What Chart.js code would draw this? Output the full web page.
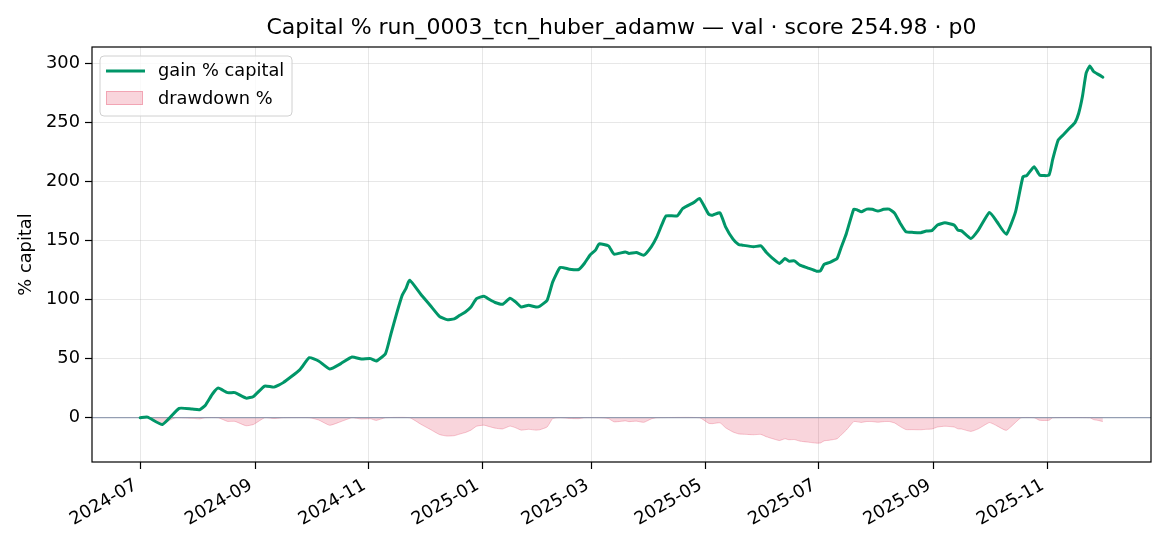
<!DOCTYPE html>
<html>
<head>
<meta charset="utf-8">
<script src="https://cdn.jsdelivr.net/npm/chart.js@4.4.1/dist/chart.umd.min.js"></script>
<style>
  html, body { margin: 0; padding: 0; background: #ffffff; }
  #wrap { width: 1170px; height: 546px; }
</style>
</head>
<body>
<div id="wrap"><canvas id="capChart" width="1170" height="546"></canvas></div>
<script>
const chartTitle = "Capital % run_0003_tcn_huber_adamw — val · score 254.98 · p0";
const yLabel = "% capital";

const gainDates = [
  "2024-07-01", "2024-07-05", "2024-07-13", "2024-07-22", "2024-07-29", "2024-08-02",
  "2024-08-05", "2024-08-09", "2024-08-12", "2024-08-17", "2024-08-21", "2024-08-27",
  "2024-08-31", "2024-09-06", "2024-09-11", "2024-09-16", "2024-09-25", "2024-09-30",
  "2024-10-05", "2024-10-11", "2024-10-17", "2024-10-23", "2024-10-28", "2024-11-02",
  "2024-11-05", "2024-11-10", "2024-11-13", "2024-11-16", "2024-11-19", "2024-11-21",
  "2024-11-23", "2024-11-29", "2024-12-04", "2024-12-09", "2024-12-13", "2024-12-17",
  "2024-12-20", "2024-12-23", "2024-12-26", "2024-12-29", "2025-01-02", "2025-01-05",
  "2025-01-08", "2025-01-12", "2025-01-16", "2025-01-19", "2025-01-22", "2025-01-26",
  "2025-01-30", "2025-02-01", "2025-02-05", "2025-02-08", "2025-02-12", "2025-02-17",
  "2025-02-22", "2025-02-25", "2025-02-28", "2025-03-03", "2025-03-05", "2025-03-10",
  "2025-03-13", "2025-03-19", "2025-03-21", "2025-03-25", "2025-03-29", "2025-04-02",
  "2025-04-05", "2025-04-08", "2025-04-10", "2025-04-16", "2025-04-19", "2025-04-25",
  "2025-04-28", "2025-05-03", "2025-05-05", "2025-05-09", "2025-05-12", "2025-05-16",
  "2025-05-19", "2025-05-21", "2025-05-27", "2025-05-31", "2025-06-03", "2025-06-06",
  "2025-06-10", "2025-06-13", "2025-06-15", "2025-06-18", "2025-06-21", "2025-06-25",
  "2025-06-30", "2025-07-02", "2025-07-04", "2025-07-07", "2025-07-11", "2025-07-13",
  "2025-07-16", "2025-07-20", "2025-07-22", "2025-07-24", "2025-07-27", "2025-07-30",
  "2025-08-02", "2025-08-05", "2025-08-08", "2025-08-11", "2025-08-14", "2025-08-17",
  "2025-08-21", "2025-08-25", "2025-08-28", "2025-08-31", "2025-09-03", "2025-09-07",
  "2025-09-12", "2025-09-14", "2025-09-16", "2025-09-21", "2025-09-25", "2025-10-01",
  "2025-10-05", "2025-10-10", "2025-10-15", "2025-10-19", "2025-10-21", "2025-10-25",
  "2025-10-28", "2025-11-02", "2025-11-04", "2025-11-07", "2025-11-10", "2025-11-13",
  "2025-11-16", "2025-11-18", "2025-11-20", "2025-11-22", "2025-11-24", "2025-11-26",
  "2025-11-29", "2025-12-01"
];
const gainValues = [
  0, 0.5, -5.7, 7.9, 7.3, 6.8,
  10.4, 20.3, 25.1, 21.2, 21.2, 16.6,
  18.0, 26.8, 25.9, 29.7, 40.7, 50.8,
  48.0, 41.2, 45.8, 51.4, 49.7, 50.0,
  48.0, 54.2, 71.2, 88.1, 103.6, 109.3,
  116.4, 104.5, 95.2, 85.8, 83.0, 83.6,
  86.7, 89.5, 93.7, 100.8, 102.8, 100.0,
  97.5, 96.0, 101.1, 98.0, 93.7, 95.2,
  93.7, 94.3, 99.4, 114.9, 127.1, 125.7,
  125.4, 130.5, 137.5, 141.8, 147.1, 145.4,
  138.4, 140.3, 139.0, 139.8, 137.5, 144.6,
  153.0, 164.4, 170.8, 170.8, 177.1, 182.2,
  185.6, 172.0, 171.4, 173.4, 161.5, 151.1,
  146.6, 146.0, 144.6, 145.4, 139.8, 135.3,
  130.5, 134.7, 132.5, 132.7, 129.1, 126.8,
  124.0, 124.2, 129.7, 131.4, 134.7, 143.2,
  155.9, 176.5, 175.7, 174.2, 176.5, 176.3,
  174.8, 176.3, 176.5, 172.9, 164.4, 157.3,
  156.8, 156.6, 157.9, 158.3, 163.0, 164.9,
  163.0, 158.7, 158.1, 151.7, 158.7, 173.7,
  165.8, 155.1, 174.2, 203.9, 204.8, 212.4,
  205.3, 205.3, 218.5, 235.0, 239.8, 244.9,
  249.7, 257.6, 271.7, 291.5, 297.7, 292.9,
  290.1, 288.1
];

const ddDates = [
  "2024-07-01", "2024-07-05", "2024-07-08", "2024-07-13", "2024-07-17", "2024-07-20",
  "2024-07-22", "2024-07-29", "2024-08-02", "2024-08-05", "2024-08-12", "2024-08-17",
  "2024-08-21", "2024-08-27", "2024-08-31", "2024-09-06", "2024-09-11", "2024-09-16",
  "2024-09-30", "2024-10-05", "2024-10-11", "2024-10-17", "2024-10-23", "2024-10-28",
  "2024-11-02", "2024-11-05", "2024-11-10", "2024-11-23", "2024-11-29", "2024-12-04",
  "2024-12-09", "2024-12-13", "2024-12-17", "2024-12-20", "2024-12-23", "2024-12-26",
  "2024-12-29", "2025-01-02", "2025-01-05", "2025-01-08", "2025-01-12", "2025-01-16",
  "2025-01-19", "2025-01-22", "2025-01-26", "2025-01-30", "2025-02-01", "2025-02-05",
  "2025-02-08", "2025-02-12", "2025-02-17", "2025-02-22", "2025-02-25", "2025-03-05",
  "2025-03-10", "2025-03-13", "2025-03-19", "2025-03-21", "2025-03-25", "2025-03-29",
  "2025-04-02", "2025-04-05", "2025-04-28", "2025-05-03", "2025-05-05", "2025-05-09",
  "2025-05-12", "2025-05-16", "2025-05-19", "2025-05-21", "2025-05-27", "2025-05-31",
  "2025-06-03", "2025-06-06", "2025-06-10", "2025-06-13", "2025-06-15", "2025-06-18",
  "2025-06-21", "2025-06-25", "2025-06-30", "2025-07-02", "2025-07-04", "2025-07-07",
  "2025-07-11", "2025-07-13", "2025-07-16", "2025-07-20", "2025-07-22", "2025-07-24",
  "2025-07-27", "2025-07-30", "2025-08-02", "2025-08-05", "2025-08-08", "2025-08-11",
  "2025-08-14", "2025-08-17", "2025-08-21", "2025-08-25", "2025-08-28", "2025-08-31",
  "2025-09-03", "2025-09-07", "2025-09-12", "2025-09-14", "2025-09-16", "2025-09-21",
  "2025-09-25", "2025-10-01", "2025-10-05", "2025-10-10", "2025-10-15", "2025-10-18",
  "2025-10-25", "2025-10-28", "2025-11-02", "2025-11-04", "2025-11-24", "2025-11-26",
  "2025-11-29", "2025-12-01"
];
const ddValues = [
  0, 0, -1.5, -5.5, -2.0, 0,
  0, -0.5, -1.0, 0, 0, -3.1,
  -3.1, -6.8, -5.7, 0, -0.7, 0,
  0, -1.9, -6.4, -3.3, 0, -1.1,
  -0.9, -2.3, 0, 0, -5.5, -9.8,
  -14.2, -15.5, -15.2, -13.8, -12.5, -10.5,
  -7.2, -6.3, -7.6, -8.8, -9.5, -7.1,
  -8.5, -10.5, -9.8, -10.5, -10.2, -7.8,
  -0.7, 0, -0.6, -0.8, 0, 0,
  -0.7, -3.5, -2.7, -3.3, -2.9, -3.9,
  -1.0, 0, 0, -4.8, -5.0, -4.3,
  -8.5, -12.1, -13.7, -13.9, -14.4, -14.1,
  -16.1, -17.6, -19.3, -17.8, -18.6, -18.5,
  -19.8, -20.6, -21.5, -21.4, -19.6, -19.0,
  -17.8, -14.9, -10.4, -3.2, -3.5, -4.0,
  -3.2, -3.3, -3.8, -3.3, -3.2, -4.5,
  -7.5, -10.0, -10.1, -10.2, -9.8, -9.6,
  -7.9, -7.2, -7.9, -9.4, -9.6, -11.6,
  -9.4, -4.1, -6.9, -10.7, -4.0, 0,
  0, -2.2, -2.2, 0, 0, -1.6,
  -2.5, -3.2
];

const xTickLabels = ["2024-07", "2024-09", "2024-11", "2025-01", "2025-03", "2025-05", "2025-07", "2025-09", "2025-11"];
const yTickValues = [0, 50, 100, 150, 200, 250, 300];

const GREEN = "rgb(0, 150, 104)";
const DD_FILL = "rgba(220, 20, 60, 0.18)";
const DD_EDGE = "rgba(220, 20, 60, 0.22)";
const GRID = "rgba(176, 176, 176, 0.3)";
const FONT = "DejaVu Sans";
const TICK_SIZE = 17.8;
const X_LABEL_ANGLE = 30;

// days since 2024-07-01
const ORIGIN = Date.UTC(2024, 6, 1);
function dayOf(s) {
  const p = s.split("-").map(Number);
  return (Date.UTC(p[0], p[1] - 1, p[2] || 1) - ORIGIN) / 86400000;
}

const gainPoints = gainDates.map((d, i) => ({ x: dayOf(d), y: gainValues[i] }));
const ddPoints = ddDates.map((d, i) => ({ x: dayOf(d), y: ddValues[i] }));
const xTickDays = xTickLabels.map(dayOf);

// matplotlib-like 5% margins
const xFirst = gainPoints[0].x, xLast = gainPoints[gainPoints.length - 1].x;
const xPad = (xLast - xFirst) * 0.05;
const allY = gainValues.concat(ddValues);
const yLo = Math.min(...allY), yHi = Math.max(...allY);
const yPad = (yHi - yLo) * 0.05;

Chart.defaults.font.family = FONT;
Chart.defaults.color = "#000";

const overlayPlugin = {
  id: "overlay",
  afterDatasetDraw(chart, args) {
    // zero line over the drawdown fill, under the gain line
    if (args.index !== 1) return;
    const { ctx, chartArea } = chart;
    const y0 = chart.scales.y.getPixelForValue(0);
    ctx.save();
    ctx.strokeStyle = "rgba(128, 140, 165, 0.8)";
    ctx.lineWidth = 1.2;
    ctx.beginPath();
    ctx.moveTo(chartArea.left, y0);
    ctx.lineTo(chartArea.right, y0);
    ctx.stroke();
    ctx.restore();
  },
  afterDraw(chart) {
    const { ctx, chartArea } = chart;
    ctx.save();
    ctx.strokeStyle = "#000";
    ctx.lineWidth = 1.2;
    ctx.strokeRect(chartArea.left, chartArea.top, chartArea.right - chartArea.left, chartArea.bottom - chartArea.top);

    // rotated date labels, right end on the tick
    const xs = chart.scales.x;
    ctx.fillStyle = "#000";
    ctx.font = TICK_SIZE + "px " + FONT;
    ctx.textAlign = "right";
    ctx.textBaseline = "alphabetic";
    xs.ticks.forEach((t, i) => {
      const px = xs.getPixelForValue(t.value);
      ctx.save();
      ctx.translate(px - 2, chartArea.bottom + 26);
      ctx.rotate(-X_LABEL_ANGLE * Math.PI / 180);
      ctx.fillText(xTickLabels[i], 0, 0);
      ctx.restore();
    });

    // legend box, upper left
    const x0 = chartArea.left + 8, y0 = chartArea.top + 9;
    ctx.beginPath();
    ctx.roundRect(x0, y0, 192, 60, 4);
    ctx.fillStyle = "rgba(255,255,255,0.8)";
    ctx.fill();
    ctx.strokeStyle = "#d0d0d0";
    ctx.lineWidth = 1;
    ctx.stroke();

    ctx.strokeStyle = GREEN;
    ctx.lineWidth = 3;
    ctx.beginPath();
    ctx.moveTo(x0 + 6, y0 + 15);
    ctx.lineTo(x0 + 45, y0 + 15);
    ctx.stroke();

    ctx.fillStyle = DD_FILL;
    ctx.fillRect(x0 + 6, y0 + 35, 37, 14);
    ctx.strokeStyle = "rgba(220, 20, 60, 0.25)";
    ctx.lineWidth = 1;
    ctx.strokeRect(x0 + 6.5, y0 + 35.5, 36, 13);

    ctx.fillStyle = "#000";
    ctx.font = TICK_SIZE + "px " + FONT;
    ctx.textBaseline = "middle";
    ctx.textAlign = "left";
    ctx.fillText(chart.data.datasets[0].label, x0 + 58, y0 + 15);
    ctx.fillText(chart.data.datasets[1].label, x0 + 58, y0 + 43);
    ctx.restore();
  }
};

const ctx = document.getElementById("capChart").getContext("2d");
new Chart(ctx, {
  type: "line",
  data: {
    datasets: [
      {
        label: "gain % capital",
        data: gainPoints,
        borderColor: GREEN,
        borderWidth: 3,
        pointRadius: 0,
        fill: false,
        tension: 0.15,
        borderJoinStyle: "round",
        borderCapStyle: "round"
      },
      {
        label: "drawdown %",
        data: ddPoints,
        borderColor: DD_EDGE,
        backgroundColor: DD_FILL,
        borderWidth: 1,
        pointRadius: 0,
        fill: "origin",
        tension: 0.15
      }
    ]
  },
  options: {
    responsive: false,
    animation: false,
    layout: { padding: { left: 0, right: 19, top: 0, bottom: 0 } },
    plugins: {
      legend: { display: false },
      tooltip: { enabled: false },
      title: {
        display: true,
        text: chartTitle,
        fullSize: false,
        color: "#000",
        font: { size: 22, weight: "normal", family: FONT },
        padding: { top: 15, bottom: 5.6 }
      }
    },
    scales: {
      x: {
        type: "linear",
        min: xFirst - xPad,
        max: xLast + xPad,
        afterBuildTicks: (scale) => {
          scale.ticks = xTickDays.map((v) => ({ value: v }));
        },
        afterFit: (scale) => {
          scale.height = 84;
        },
        ticks: { display: false },
        grid: { color: GRID, lineWidth: 1, tickLength: 7, tickColor: "#000", tickWidth: 1.2 },
        border: { display: false }
      },
      y: {
        type: "linear",
        min: yLo - yPad,
        max: yHi + yPad,
        afterBuildTicks: (scale) => {
          scale.ticks = yTickValues.map((v) => ({ value: v }));
        },
        afterFit: (scale) => {
          scale.width = 92;
        },
        ticks: {
          padding: 5,
          color: "#000",
          font: { size: TICK_SIZE, family: FONT }
        },
        grid: { color: GRID, lineWidth: 1, tickLength: 7, tickColor: "#000", tickWidth: 1.2 },
        border: { display: false },
        title: {
          display: true,
          text: yLabel,
          color: "#000",
          font: { size: TICK_SIZE, family: FONT },
          padding: { top: 16, bottom: 0 }
        }
      }
    }
  },
  plugins: [overlayPlugin]
});
</script>
</body>
</html>
